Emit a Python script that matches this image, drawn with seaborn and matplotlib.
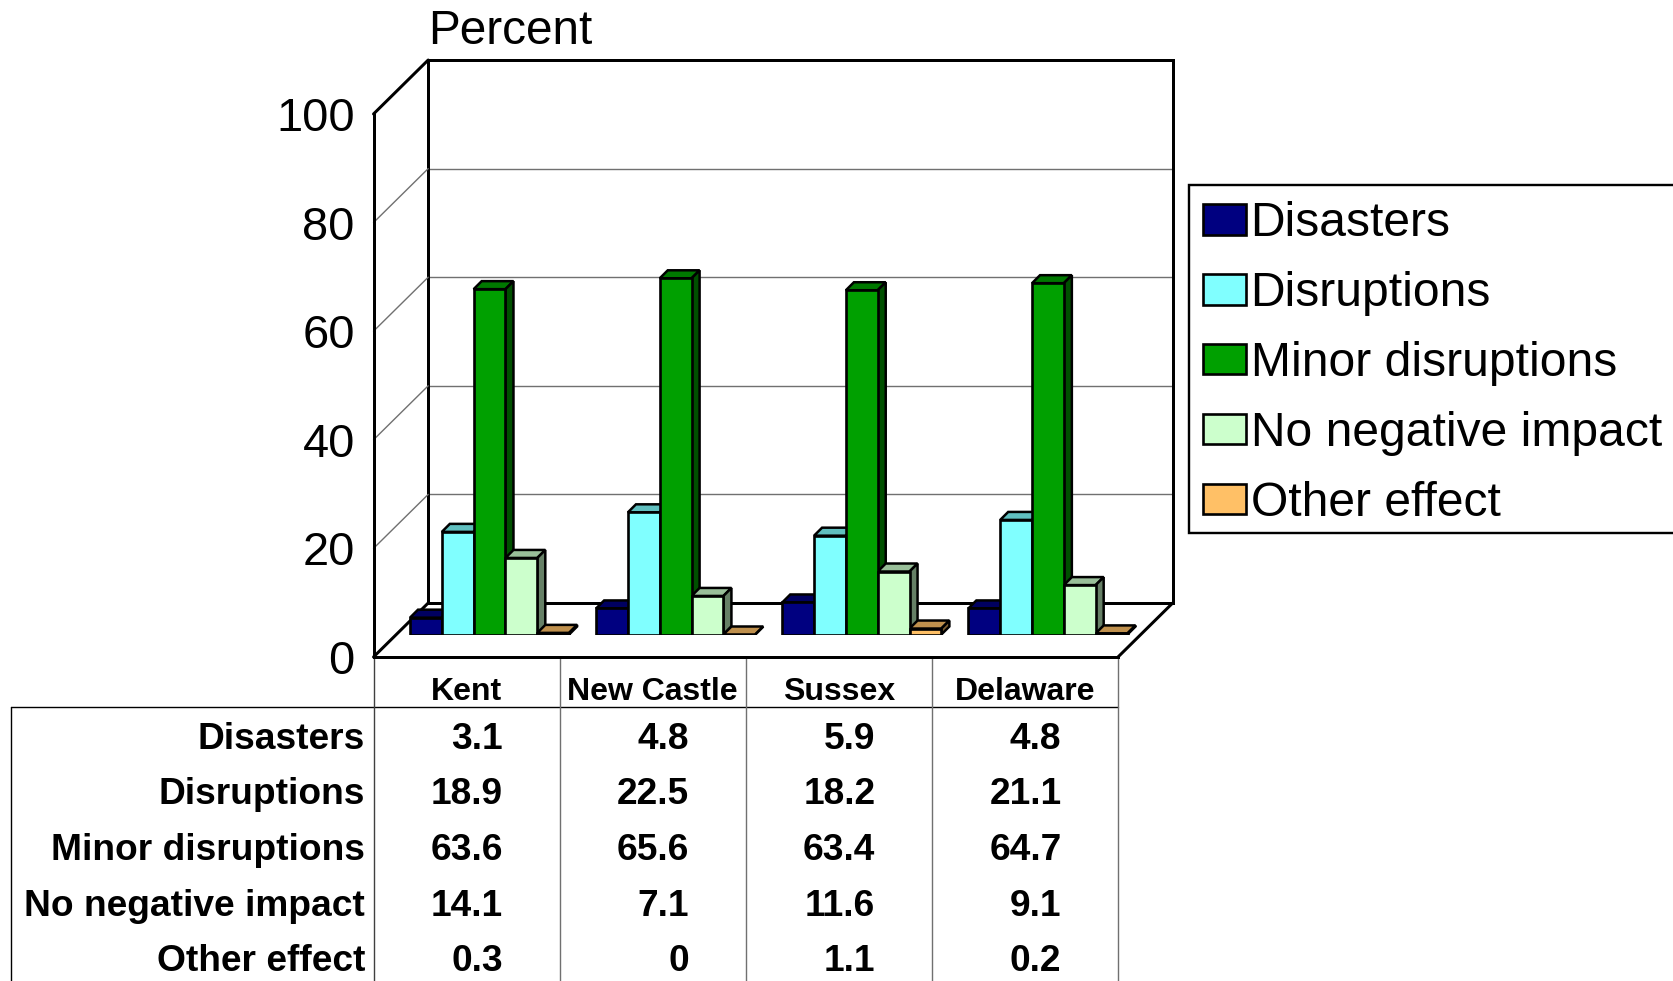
"""Delaware counties: grouped pseudo-3D bar chart with a data table below it."""

import matplotlib

matplotlib.use("Agg")
import matplotlib.pyplot as plt
import numpy as np
import pandas as pd
import seaborn as sns
from matplotlib.patches import Polygon, Rectangle

COUNTIES = ["Kent", "New Castle", "Sussex", "Delaware"]
EFFECTS = ["Disasters", "Disruptions", "Minor disruptions", "No negative impact", "Other effect"]
DISASTERS = [3.1, 4.8, 5.9, 4.8]
DISRUPTIONS = [18.9, 22.5, 18.2, 21.1]
MINOR = [63.6, 65.6, 63.4, 64.7]
NO_IMPACT = [14.1, 7.1, 11.6, 9.1]
OTHER = [0.3, 0, 1.1, 0.2]
COLORS = ["#000080", "#80FFFF", "#00A000", "#CCFFCC", "#FFC066"]
Y_TICKS = [0, 20, 40, 60, 80, 100]

W, H = 1673, 981
FRONT_L, FRONT_R, FRONT_B, FRONT_T = 373.5, 1118, 657, 114
DEPTH_X, DEPTH_Y = 54.7, 54
BAR_OFF_X, BAR_OFF_Y = 23, 22.5
BAR_DEPTH = 8
ROW_Y = [739.5, 794.5, 850, 906, 961]
LINE_PX = 3


def axes_px(left, right, bottom, top):
    return [left / W, 1 - bottom / H, (right - left) / W, (bottom - top) / H]


def shade(color, factor):
    return tuple(c * factor for c in matplotlib.colors.to_rgb(color))


def draw_bar_depth(ax):
    # tops and sides sit under the bar faces so the next bar hides them
    dx = BAR_DEPTH / ((FRONT_R - FRONT_L) / 4)
    dy = BAR_DEPTH / ((FRONT_B - FRONT_T) / 100)
    for container, color in zip(ax.containers, COLORS):
        for bar in container:
            bar.set_zorder(4)
            x0, w, h = bar.get_x(), bar.get_width(), bar.get_height()
            top = [(x0, h), (x0 + w, h), (x0 + w + dx, h + dy), (x0 + dx, h + dy)]
            side = [(x0 + w, 0), (x0 + w + dx, dy), (x0 + w + dx, h + dy), (x0 + w, h)]
            ax.add_patch(Polygon(top, fc=shade(color, 0.75), ec="black", lw=1.8, zorder=3))
            ax.add_patch(Polygon(side, fc=shade(color, 0.5), ec="black", lw=1.8, zorder=3))


def main():
    sns.set_theme(style="white")
    plt.rcParams["font.family"] = ["Liberation Sans", "DejaVu Sans"]
    plt.rcParams["legend.labelcolor"] = "black"

    fig = plt.figure(figsize=(W / 100, H / 100), dpi=100)
    frame_lw = LINE_PX * 0.72

    # back wall with its gridlines
    back_ax = fig.add_axes(axes_px(FRONT_L + DEPTH_X, FRONT_R + DEPTH_X, FRONT_B - DEPTH_Y, FRONT_T - DEPTH_Y))
    back_ax.set_xlim(0, 1)
    back_ax.set_ylim(0, 100)
    back_ax.set_yticks(Y_TICKS)
    back_ax.set_xticks([])
    back_ax.tick_params(left=False, labelleft=False)
    back_ax.grid(axis="y", color="#707070", lw=1)
    for spine in back_ax.spines.values():
        spine.set_color("black")
        spine.set_linewidth(frame_lw)

    # front plane: carries the value axis, county labels and the table
    front_ax = fig.add_axes(axes_px(FRONT_L, FRONT_R, FRONT_B, FRONT_T), zorder=1)
    front_ax.patch.set_visible(False)
    front_ax.set_xlim(-0.5, 3.5)
    front_ax.set_ylim(0, 100)
    front_ax.set_yticks(Y_TICKS)
    front_ax.set_xticks(range(len(COUNTIES)), COUNTIES)
    front_ax.tick_params(axis="y", length=0, pad=13.5, labelsize=33.8, colors="black")
    front_ax.tick_params(axis="x", length=0, pad=14.5, labelsize=23, colors="black")
    for label in front_ax.get_xticklabels():
        label.set_fontweight("bold")
    for side in ["top", "right"]:
        front_ax.spines[side].set_visible(False)
    for side in ["left", "bottom"]:
        front_ax.spines[side].set_color("black")
        front_ax.spines[side].set_linewidth(frame_lw)

    unit_x = (FRONT_R - FRONT_L) / 4
    unit_y = (FRONT_B - FRONT_T) / 100
    dx, dy = DEPTH_X / unit_x, DEPTH_Y / unit_y
    for tick in Y_TICKS:
        thick = tick in (0, 100)
        front_ax.plot([-0.5, -0.5 + dx], [tick, tick + dy], clip_on=False, color="black" if thick else "#707070",
                      lw=frame_lw if thick else 1)
    front_ax.plot([3.5, 3.5 + dx], [0, dy], clip_on=False, color="black", lw=frame_lw)

    # table rules
    rule_top = -(707.3 - FRONT_B) / unit_y
    fig_bottom = -(H - FRONT_B) / unit_y
    table_left = -0.5 - (FRONT_L - 11.5) / unit_x
    front_ax.plot([table_left, 3.5], [rule_top, rule_top], clip_on=False, color="black", lw=1)
    front_ax.plot([table_left, table_left], [rule_top, fig_bottom], clip_on=False, color="black", lw=1)
    front_ax.plot([-0.5, -0.5], [0, fig_bottom], clip_on=False, color="#404040", lw=1)
    for edge in [0.5, 1.5, 2.5, 3.5]:
        front_ax.plot([edge, edge], [0, fig_bottom], clip_on=False, color="#707070", lw=1)

    rows = [DISASTERS, DISRUPTIONS, MINOR, NO_IMPACT, OTHER]
    for name, values, row_px in zip(EFFECTS, rows, ROW_Y):
        y = -(row_px - FRONT_B) / unit_y
        front_ax.text(-0.5 - 8.5 / unit_x, y, name, ha="right", va="center", fontsize=26.7,
                      fontweight="bold", color="black")
        for i, value in enumerate(values):
            front_ax.text(i + 36.5 / unit_x, y, f"{value:g}", ha="right", va="center", fontsize=26.7,
                          fontweight="bold", color="black")

    # bars stand on the floor, shifted back from the front plane
    bar_ax = fig.add_axes(axes_px(FRONT_L + BAR_OFF_X, FRONT_R + BAR_OFF_X, FRONT_B - BAR_OFF_Y, FRONT_T - BAR_OFF_Y),
                          zorder=2)
    df = pd.DataFrame({
        "County": np.tile(COUNTIES, len(EFFECTS)),
        "Effect": np.repeat(EFFECTS, len(COUNTIES)),
        "Percent": np.concatenate(rows),
    })
    sns.barplot(data=df, x="County", y="Percent", hue="Effect", order=COUNTIES, hue_order=EFFECTS,
                palette=COLORS, saturation=1, width=0.855, gap=0, edgecolor="black", linewidth=1.9,
                errorbar=None, ax=bar_ax)
    bar_ax.set_xlim(-0.5, 3.5)
    bar_ax.set_ylim(0, 100)
    draw_bar_depth(bar_ax)
    bar_ax.patch.set_visible(False)
    bar_ax.set_xticks([])
    bar_ax.set_yticks([])
    bar_ax.set_xlabel("")
    bar_ax.set_ylabel("")
    for spine in bar_ax.spines.values():
        spine.set_visible(False)

    # the legend box runs off the right edge of the picture
    box = Rectangle((1189 / W, 1 - 532.7 / H), 500 / W, 347.7 / H, transform=fig.transFigure, fc="white",
                    ec="black", lw=frame_lw * 0.8, zorder=1.5)
    fig.add_artist(box)
    sns.move_legend(bar_ax, "upper left", bbox_to_anchor=(1189 / W, 1 - 187 / H), bbox_transform=fig.transFigure,
                    title=None, frameon=False, fontsize=34.6, labelcolor="black",
                    handlelength=0.88, handleheight=0.6, handletextpad=0.1, labelspacing=0.517,
                    borderpad=0.3, borderaxespad=0)

    fig.text(428 / W, 1 - 31 / H, "Percent", fontsize=34.4, ha="left", va="center", color="black")

    fig.savefig("out.png", dpi=100)


if __name__ == "__main__":
    main()
